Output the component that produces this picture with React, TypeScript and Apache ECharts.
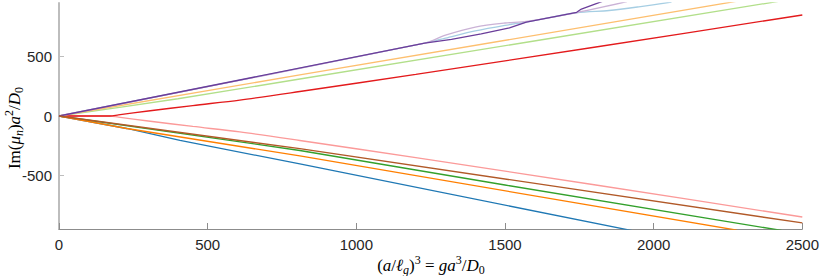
import React, { useEffect, useRef } from "react";
import * as echarts from "echarts";

const xTicks = [0, 500, 1000, 1500, 2000, 2500];
const yTicks = [-500, 0, 500];

// Paired palette order
const lightBlue: [number, number][] = [[0, 0], [1230, 613], [1300, 655], [1400, 715], [1500, 762], [1572, 790], [1741, 868], [1850, 887], [1950, 918], [2060, 958]];
const blue: [number, number][] = [[0, 0], [228, -105], [407, -205], [810, -403], [1950, -975]];
const lightGreen: [number, number][] = [[0, 0], [400, 145], [810, 311], [2450, 976]];
const green: [number, number][] = [[0, 0], [810, -290], [1500, -580], [2430, -962]];
const pink: [number, number][] = [[0, 0], [171, 0], [200, -10], [300, -42], [450, -88], [608, -134], [810, -206], [1200, -350], [1800, -578], [2500, -849]];
const red: [number, number][] = [[0, 0], [171, 0], [200, 10], [300, 42], [450, 88], [608, 134], [810, 206], [1200, 350], [1800, 578], [2500, 849]];
const lightOrange: [number, number][] = [[0, 0], [810, 345], [2280, 965]];
const orange: [number, number][] = [[0, 0], [228, -105], [810, -336], [2280, -960]];
const lightPurple: [number, number][] = [[0, 0], [1230, 613], [1300, 680], [1400, 748], [1500, 782], [1572, 795], [1741, 870], [1910, 962]];
const purple: [number, number][] = [[0, 0], [1230, 613], [1320, 645], [1420, 690], [1515, 740], [1572, 790], [1741, 872], [1757, 899], [1830, 966]];
const brown: [number, number][] = [[0, 0], [810, -275], [2500, -899]];

const seriesList: { name: string; color: string; data: [number, number][]; smooth: number }[] = [
  { name: "s1", color: "#a6cee3", data: lightBlue, smooth: 0.3 },
  { name: "s2", color: "#1f78b4", data: blue, smooth: 0 },
  { name: "s3", color: "#b2df8a", data: lightGreen, smooth: 0.2 },
  { name: "s4", color: "#33a02c", data: green, smooth: 0 },
  { name: "s5", color: "#fb9a99", data: pink, smooth: 0.3 },
  { name: "s6", color: "#e31a1c", data: red, smooth: 0.3 },
  { name: "s7", color: "#fdbf6f", data: lightOrange, smooth: 0 },
  { name: "s8", color: "#ff7f00", data: orange, smooth: 0 },
  { name: "s9", color: "#cab2d6", data: lightPurple, smooth: 0.3 },
  { name: "s10", color: "#6a3d9a", data: purple, smooth: 0 },
  { name: "s12", color: "#b15928", data: brown, smooth: 0 },
];

const mathFont = "'Liberation Serif', 'DejaVu Serif', serif";
const rich = {
  n: { fontFamily: mathFont, fontSize: 17, lineHeight: 22, color: "#262626", verticalAlign: "middle" },
  i: { fontFamily: mathFont, fontSize: 17, lineHeight: 22, color: "#262626", fontStyle: "italic", verticalAlign: "middle" },
  sup: { fontFamily: mathFont, fontSize: 12, lineHeight: 12, color: "#262626", verticalAlign: "top" },
  sub: { fontFamily: mathFont, fontSize: 12, lineHeight: 13, color: "#262626", verticalAlign: "bottom" },
  subi: { fontFamily: mathFont, fontSize: 12, lineHeight: 13, color: "#262626", fontStyle: "italic", verticalAlign: "bottom" },
};

export default function App() {
  const ref = useRef<HTMLDivElement>(null);
  useEffect(() => {
    if (!ref.current) return;
    const chart = echarts.init(ref.current, undefined, { renderer: "svg" });
    const labelFont = "'Liberation Sans', Arial, sans-serif";
    chart.setOption({
      animation: false,
      grid: { left: 59, right: 19, top: 3, bottom: 47, containLabel: false },
      xAxis: {
        type: "value",
        min: 0,
        max: 2500,
        interval: 500,
        axisLine: { show: true, onZero: false, lineStyle: { color: "#8c8c8c", width: 1 } },
        axisTick: { show: true, inside: true, length: 6, lineStyle: { color: "#8c8c8c" } },
        axisLabel: { margin: 8, fontSize: 15, color: "#262626", fontFamily: labelFont,
          formatter: (v: number) => String(v) },
        splitLine: { show: false },
      },
      yAxis: {
        type: "value",
        min: -950,
        max: 950,
        axisLine: { show: true, onZero: false, lineStyle: { color: "#bdbdbd", width: 2 } },
        axisTick: { show: true, inside: true, length: 5, lineStyle: { color: "#bdbdbd" }, customValues: yTicks },
        axisLabel: { margin: 7, fontSize: 15, color: "#262626", fontFamily: labelFont, customValues: yTicks,
          formatter: (v: number) => String(v) },
        splitLine: { show: false },
      },
      series: seriesList.map((s) => ({
        name: s.name,
        type: "line",
        data: s.data,
        showSymbol: false,
        symbol: "none",
        clip: true,
        smooth: s.smooth,
        lineStyle: { color: s.color, width: 1.3 },
        itemStyle: { color: s.color },
      })),
      graphic: [
        {
          type: "text",
          x: 431,
          y: 265,
          style: {
            text: "{n|(}{i|a}{n|/}{i|ℓ}{subi|g}{n|)}{sup|3}{n| = }{i|ga}{sup|3}{n|/}{i|D}{sub|0}",
            rich,
            align: "center",
            verticalAlign: "middle",
          },
        },
        {
          type: "text",
          x: 14,
          y: 128,
          rotation: Math.PI / 2,
          style: {
            text: "{n|Im(}{i|μ}{subi|n}{n|)}{i|a}{sup|2}{n|/}{i|D}{sub|0}",
            rich,
            align: "center",
            verticalAlign: "middle",
          },
        },
      ],
    });
    return () => chart.dispose();
  }, []);
  return <div ref={ref} style={{ width: 822, height: 276, position: "absolute", left: 0, top: 0 }} />;
}
